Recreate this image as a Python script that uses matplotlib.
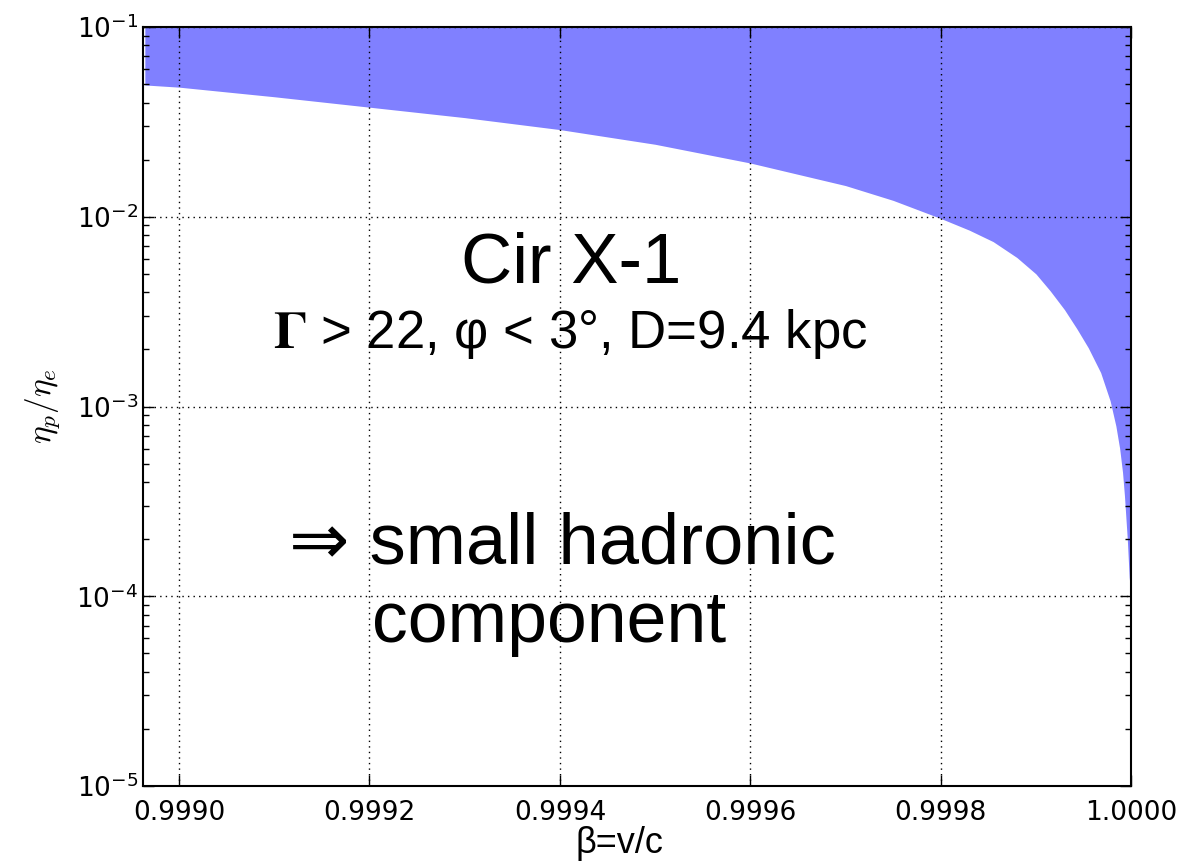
import numpy as np
import matplotlib
matplotlib.use('Agg')
import matplotlib.pyplot as plt

# curve: beta vs lower bound of eta_p/eta_e
beta = [0.998964, 0.9990, 0.9991, 0.9992, 0.9993, 0.9994, 0.9995, 0.9996,
        0.9997, 0.99975, 0.9998, 0.99983, 0.999855, 0.99988, 0.9999, 0.999915,
        0.99993, 0.999943, 0.999955, 0.999968, 0.999978, 0.999984, 0.999988,
        0.999991, 0.999993, 0.999996, 0.999998, 1.0]
eta_ratio = [0.0495, 0.0482, 0.0429, 0.0378, 0.0333, 0.0288, 0.0241, 0.0192,
             0.0146, 0.0122, 0.0098, 0.0085, 0.0074, 0.0061, 0.0050, 0.00407,
             0.00324, 0.00257, 0.00204, 0.00151, 0.00107, 0.00079, 0.00060,
             0.00045, 0.00034, 0.00020, 0.000126, 0.0001]
y_top = 1e-1

xticks = [0.9990, 0.9992, 0.9994, 0.9996, 0.9998, 1.0000]
xticklabels = ['0.9990', '0.9992', '0.9994', '0.9996', '0.9998', '1.0000']

sans = ['Liberation Sans', 'DejaVu Sans']
plt.rcParams['axes.unicode_minus'] = False

fig = plt.figure(figsize=(12.01, 8.63), dpi=100)
ax = fig.add_axes([0.119, 0.0892, 0.8228, 0.8795])

ax.fill_between(beta, eta_ratio, y_top, color='#8080ff', linewidth=0)
ax.set_yscale('log')
ax.set_xlim(0.998962, 1.0)
ax.set_ylim(1e-5, 1e-1)
ax.set_xticks(xticks)
ax.set_xticklabels(xticklabels)
ax.grid(True, which='major', color='k', linestyle=(0, (1, 3)), linewidth=1)
ax.tick_params(which='both', direction='in', top=True, right=True, labelsize=19)
ax.tick_params(which='major', length=8, width=1)
ax.tick_params(which='minor', length=4, width=1)
ax.tick_params(axis='x', pad=10)
for s in ax.spines.values():
    s.set_linewidth(1.5)

ax.set_ylabel(r'$\eta_p/\eta_e$', fontsize=24, labelpad=10, math_fontfamily='cm')
fig.text(0.516, 0.012, 'β=v/c', fontsize=26, family=sans, ha='center', va='baseline')

fig.text(0.476, 0.673, 'Cir X-1', fontsize=51, family=sans, ha='center', va='baseline')
fig.text(0.475, 0.5968, r'$\mathbf{\Gamma}$ > 22, φ < 3°, D=9.4 kpc', fontsize=38,
         family=sans, ha='center', va='baseline', math_fontfamily='stix')
fig.text(0.241, 0.3476, '⇒ small hadronic', fontsize=52, family=sans, va='baseline')
fig.text(0.31, 0.2561, 'component', fontsize=51.5, family=sans, va='baseline')

fig.savefig('out.png', dpi=100)
